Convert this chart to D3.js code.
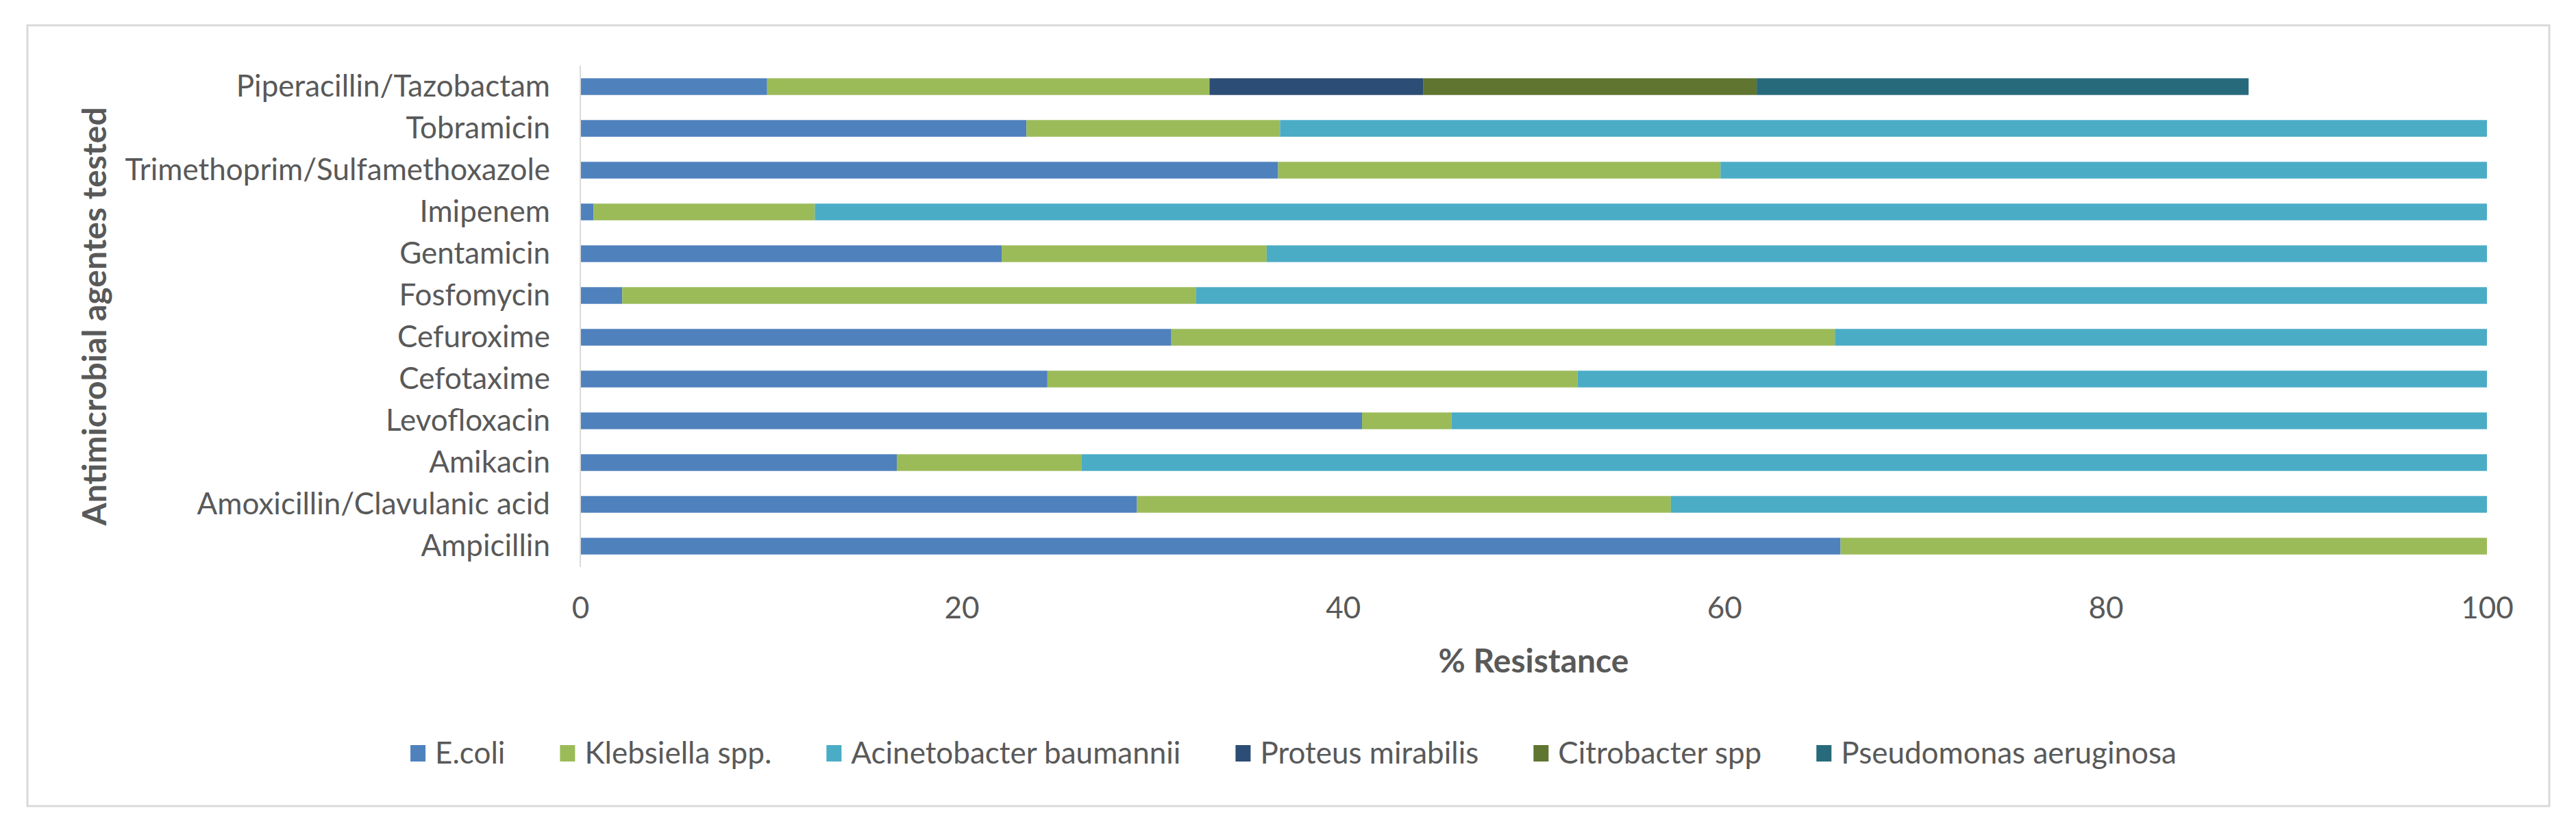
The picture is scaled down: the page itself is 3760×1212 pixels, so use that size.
<!DOCTYPE html>
<html lang="en">
<head>
    <meta charset="UTF-8">
    <title>Antimicrobial resistance by agent</title>
    <script src="https://d3js.org/d3.v7.min.js"></script>
    <style>
        body { margin: 0; background-color: #fff; font-family: Lato, "Open Sans", sans-serif; }
        svg { display: block; }
        .cat text, .tick text { fill: #595959; font-size: 44px; }
        .axis-title { fill: #595959; font-size: 48px; font-weight: bold; }
        .legend text { fill: #595959; font-size: 44px; }
    </style>
</head>
<body>
    <svg></svg>
    <script>
        const width = 3760, height = 1212;
        const svg = d3.select("svg").attr("width", width).attr("height", height);

        // agents, top to bottom
        const agents = ["Piperacillin/Tazobactam", "Tobramicin", "Trimethoprim/Sulfamethoxazole", "Imipenem",
            "Gentamicin", "Fosfomycin", "Cefuroxime", "Cefotaxime", "Levofloxacin", "Amikacin",
            "Amoxicillin/Clavulanic acid", "Ampicillin"];

        const species = ["E.coli", "Klebsiella spp.", "Acinetobacter baumannii", "Proteus mirabilis",
            "Citrobacter spp", "Pseudomonas aeruginosa"];

        const colors = ["#4f81bd", "#9bbb59", "#4bacc6", "#2c4d75", "#5f7530", "#276a7c"];

        // % resistance per species, same order as agents
        const ecoli        = [9.8, 23.4, 36.6, 0.7, 22.1, 2.2, 31.0, 24.5, 41.0, 16.6, 29.2, 66.1];
        const klebsiella   = [23.2, 13.3, 23.2, 11.6, 13.9, 30.1, 34.8, 27.8, 4.7, 9.7, 28.0, 33.9];
        const acinetobacter = [0, 63.3, 40.2, 87.7, 64.0, 67.7, 34.2, 47.7, 54.3, 73.7, 42.8, 0];
        const proteus      = [11.2, 0, 0, 0, 0, 0, 0, 0, 0, 0, 0, 0];
        const citrobacter  = [17.5, 0, 0, 0, 0, 0, 0, 0, 0, 0, 0, 0];
        const pseudomonas  = [25.8, 0, 0, 0, 0, 0, 0, 0, 0, 0, 0, 0];

        const xTicks = [0, 20, 40, 60, 80, 100];

        const seriesValues = [ecoli, klebsiella, acinetobacter, proteus, citrobacter, pseudomonas];
        const rows = agents.map((a, i) => {
            const r = { agent: a };
            species.forEach((s, j) => r[s] = seriesValues[j][i]);
            return r;
        });

        const margin = { left: 847, right: 130, top: 96, bottom: 384 };
        const x = d3.scaleLinear().domain([0, 100]).range([margin.left, width - margin.right]);
        const y = d3.scaleBand().domain(agents).range([margin.top, height - margin.bottom])
            .paddingInner(0.6).paddingOuter(0.3);
        const color = d3.scaleOrdinal(species, colors);

        // chart border
        svg.append("rect")
            .attr("x", 40).attr("y", 37).attr("width", 3681).attr("height", 1140)
            .attr("fill", "#fff").attr("stroke", "#d9d9d9").attr("stroke-width", 3);

        const stacked = d3.stack().keys(species)(rows);

        svg.append("g").selectAll("g")
            .data(stacked)
            .join("g")
            .attr("fill", d => color(d.key))
            .selectAll("rect")
            .data(d => d)
            .join("rect")
            .attr("x", d => x(d[0]))
            .attr("y", d => y(d.data.agent))
            .attr("width", d => x(d[1]) - x(d[0]))
            .attr("height", y.bandwidth());

        // category axis
        const yAxis = svg.append("g")
            .attr("class", "cat")
            .attr("transform", `translate(${x(0)},0)`)
            .call(d3.axisLeft(y).tickSize(0).tickPadding(44));
        yAxis.select(".domain").attr("stroke", "#d9d9d9").attr("stroke-width", 2)
            .attr("d", `M0,${margin.top}V${height - margin.bottom}`);
        yAxis.selectAll("text").style("font-family", "Lato, 'Open Sans', sans-serif");

        // value axis (labels only)
        const xAxis = svg.append("g")
            .attr("transform", `translate(0,${height - margin.bottom})`)
            .call(d3.axisBottom(x).tickValues(xTicks).tickSize(0).tickPadding(44));
        xAxis.select(".domain").remove();
        xAxis.selectAll("text").style("font-family", "Lato, 'Open Sans', sans-serif");

        svg.append("text")
            .attr("class", "axis-title")
            .attr("x", (x(0) + x(100)) / 2).attr("y", 982)
            .attr("text-anchor", "middle")
            .text("% Resistance");

        svg.append("text")
            .attr("class", "axis-title")
            .attr("transform", `translate(155,${(margin.top + height - margin.bottom) / 2}) rotate(-90)`)
            .attr("text-anchor", "middle")
            .text("Antimicrobial agentes tested");

        // legend
        const legend = svg.append("g").attr("class", "legend");
        const items = legend.selectAll("g").data(species).join("g");
        items.append("rect").attr("width", 22).attr("height", 24).attr("y", -12)
            .attr("fill", d => color(d));
        items.append("text").attr("x", 36).attr("dy", "0.35em").text(d => d);

        let offset = 0;
        items.each(function () {
            const w = this.querySelector("text").getComputedTextLength() + 36;
            d3.select(this).attr("transform", `translate(${offset},1100)`);
            offset += w + 80;
        });
        const legendWidth = offset - 80;
        legend.attr("transform", `translate(${1888 - legendWidth / 2},0)`);
    </script>
</body>
</html>
